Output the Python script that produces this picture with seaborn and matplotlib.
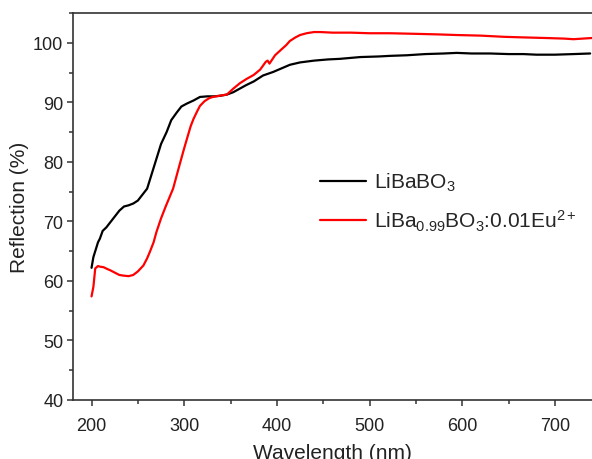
import matplotlib
matplotlib.use("Agg")
import matplotlib.pyplot as plt
import seaborn as sns
import pandas as pd
from matplotlib.ticker import MultipleLocator

# ---- data ----
wl_host = [200, 202, 204, 207, 209, 212, 216, 220, 225, 230, 235, 240, 245, 250, 255, 260,
           265, 270, 275, 281, 286, 292, 297, 303, 310, 317, 325, 332, 339, 346, 353, 360,
           367, 375, 385, 396, 405, 414, 425, 440, 455, 468, 490, 510, 522, 540, 560, 580,
           594, 610, 630, 650, 666, 680, 700, 720, 738]
refl_host = [62.2, 64.0, 65.0, 66.5, 67.1, 68.4, 69.0, 69.8, 70.8, 71.8, 72.5, 72.7, 73.0,
             73.5, 74.5, 75.5, 78.0, 80.5, 83.0, 85.0, 87.0, 88.3, 89.3, 89.8, 90.3, 90.9,
             91.0, 91.0, 91.1, 91.3, 91.7, 92.3, 92.9, 93.5, 94.5, 95.1, 95.7, 96.3, 96.7,
             97.0, 97.2, 97.3, 97.6, 97.7, 97.8, 97.9, 98.1, 98.2, 98.3, 98.2, 98.2, 98.1,
             98.1, 98.0, 98.0, 98.1, 98.2]

wl_eu = [200, 202, 204, 207, 209, 213, 217, 220, 225, 230, 234, 240, 245, 250, 256, 260,
         263, 267, 270, 275, 280, 288, 295, 300, 303, 307, 310, 314, 317, 322, 327, 331,
         338, 346, 353, 360, 367, 375, 382, 388, 390, 392, 395, 398, 405, 410, 414, 420,
         425, 432, 440, 447, 460, 480, 500, 522, 550, 575, 594, 620, 645, 666, 690, 710,
         720, 730, 740]
refl_eu = [57.4, 59.0, 62.1, 62.5, 62.4, 62.3, 62.0, 61.8, 61.4, 61.0, 60.9, 60.8, 61.0,
           61.6, 62.6, 63.8, 64.9, 66.5, 68.2, 70.5, 72.5, 75.5, 79.5, 82.3, 83.9, 86.0,
           87.2, 88.5, 89.4, 90.2, 90.7, 90.9, 91.1, 91.3, 92.3, 93.2, 93.9, 94.6, 95.5,
           96.8, 97.0, 96.5, 97.2, 97.9, 98.9, 99.6, 100.3, 100.9, 101.3, 101.6, 101.8,
           101.8, 101.7, 101.7, 101.6, 101.6, 101.5, 101.4, 101.3, 101.2, 101.0, 100.9,
           100.8, 100.7, 100.6, 100.7, 100.8]

labels = [r"LiBaBO$_3$", r"LiBa$_{0.99}$BO$_3$:0.01Eu$^{2+}$"]
colors = ["black", "red"]

df = pd.concat([
    pd.DataFrame({"Wavelength": wl_host, "Reflection": refl_host, "Sample": labels[0]}),
    pd.DataFrame({"Wavelength": wl_eu, "Reflection": refl_eu, "Sample": labels[1]}),
], ignore_index=True)

sns.set_theme(style="ticks")
plt.rcParams["font.family"] = ["Liberation Sans", "DejaVu Sans"]
plt.rcParams["mathtext.fontset"] = "custom"
plt.rcParams["mathtext.rm"] = "Liberation Sans"
plt.rcParams["mathtext.it"] = "Liberation Sans"
plt.rcParams["mathtext.default"] = "regular"

fig = plt.figure(figsize=(5.92, 4.6), dpi=100)
ax = fig.add_axes([73 / 592, 1 - 401 / 460, 1.0 - 73 / 592, (401 - 14) / 460])

sns.lineplot(data=df, x="Wavelength", y="Reflection", hue="Sample",
             palette=dict(zip(labels, colors)), hue_order=labels,
             linewidth=1.6, ax=ax, sort=True, estimator=None)

ax.set_xlim(180, 740)
ax.set_ylim(40, 105)
ax.xaxis.set_major_locator(MultipleLocator(100))
ax.xaxis.set_minor_locator(MultipleLocator(50))
ax.yaxis.set_major_locator(MultipleLocator(10))
ax.yaxis.set_minor_locator(MultipleLocator(5))
ax.tick_params(which="major", direction="out", length=4, width=1.1, labelsize=13,
               color="#333333", labelcolor="#222222")
ax.tick_params(which="minor", direction="out", length=2.8, width=1.1, color="#333333")
ax.tick_params(axis="x", which="major", pad=8)
ax.tick_params(axis="y", which="major", pad=3)

for s in ["left", "bottom", "top"]:
    ax.spines[s].set_visible(True)
    ax.spines[s].set_color("#333333")
    ax.spines[s].set_linewidth(1.2)
ax.spines["right"].set_visible(False)

ax.set_xlabel("Wavelength (nm)", fontsize=15, color="#222222", labelpad=7)
ax.set_ylabel("Reflection (%)", fontsize=15, color="#222222", labelpad=3)

leg = ax.legend(loc="upper left", bbox_to_anchor=(0.44, 0.64), frameon=False,
                fontsize=15, handlelength=2.2, handletextpad=0.4, labelspacing=0.7)
for line in leg.get_lines():
    line.set_linewidth(1.6)

fig.savefig("out.png", dpi=100)
